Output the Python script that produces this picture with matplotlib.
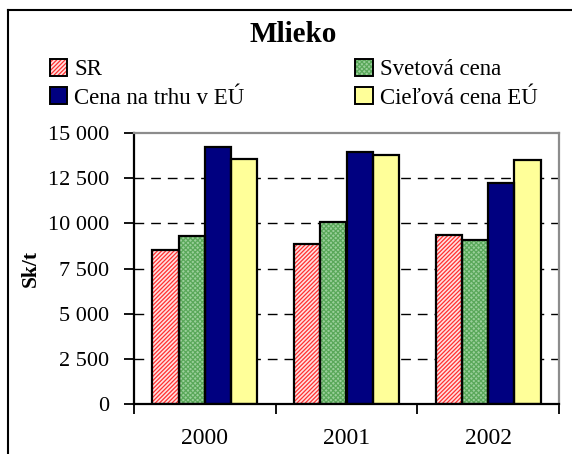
import numpy as np
import matplotlib
matplotlib.use("Agg")
import matplotlib.pyplot as plt
from matplotlib.lines import Line2D
from matplotlib.patches import Patch
from matplotlib.ticker import FuncFormatter

plt.rcParams["font.family"] = ["Liberation Serif", "DejaVu Serif"]
plt.rcParams["hatch.linewidth"] = 0.9

# ── data ─────────────────────────────────────────────────────────────
years = ["2000", "2001", "2002"]
sr = [8550, 8860, 9340]
svetova = [9320, 10100, 9050]
cena_eu = [14250, 13970, 12230]
cielova = [13550, 13790, 13500]

series_names = ["SR", "Svetová cena", "Cena na trhu v EÚ", "Cieľová cena EÚ"]
series_vals = [sr, svetova, cena_eu, cielova]
# (face, hatch colour, hatch)
styles = [("#FFE0E0", "#FF3030", "////////"),
          ("#9ACF9A", "#5AA85A", "xxxxxxx"),
          ("#000080", "#000080", ""),
          ("#FFFF99", "#FFFF99", "")]

fig = plt.figure(figsize=(5.72, 4.54), dpi=100)
ax = fig.add_axes([134 / 572, 1 - 404 / 454, (559 - 134) / 572, (404 - 133) / 454])

x = np.arange(len(years))
w = 0.185
for i, (vals, (fc, hc, hatch)) in enumerate(zip(series_vals, styles)):
    pos = x + (i - 1.5) * w
    ax.bar(pos, vals, w, color=fc, edgecolor=hc, hatch=hatch, linewidth=0, zorder=2)
    ax.bar(pos, vals, w, fill=False, edgecolor="black", linewidth=1.6, zorder=3)

ax.set_xlim(-0.5, 2.5)
ax.set_ylim(0, 15000)
ax.set_yticks(np.arange(0, 15001, 2500))
ax.yaxis.set_major_formatter(FuncFormatter(lambda v, p: f"{int(v):,}".replace(",", " ")))
ax.set_xticks(x)
ax.set_xticklabels(years)
ax.set_xticks([-0.5, 0.5, 1.5, 2.5], minor=True)
ax.tick_params(axis="x", which="major", length=0, pad=17, labelsize=17)
ax.tick_params(axis="x", which="minor", length=7, width=1.3, direction="out")
ax.tick_params(axis="y", length=7, width=1.3, pad=11, labelsize=16)

for y in np.arange(2500, 15000, 2500):
    ax.axhline(y, color="black", linewidth=1, linestyle=(0, (7, 5)), zorder=1)

for s in ["left", "bottom"]:
    ax.spines[s].set_linewidth(1.6)
    ax.spines[s].set_color("black")
for s in ["top", "right"]:
    ax.spines[s].set_linewidth(1.6)
    ax.spines[s].set_color("#8C8C8C")

ax.set_ylabel("Sk/t", fontsize=15.5, fontweight="bold", labelpad=5)

fig.text(293 / 572, 1 - 35 / 454, "Mlieko", ha="center", va="center",
         fontsize=21, fontweight="bold")

handles = []
for fc, hc, hatch in styles:
    fill = Patch(facecolor=fc, edgecolor=hc, hatch=hatch, linewidth=0)
    frame = Patch(fill=False, edgecolor="black", linewidth=1.4)
    handles.append((fill, frame))
order = [0, 2, 1, 3]
fig.legend([handles[i] for i in order], [series_names[i] for i in order],
           ncol=2, loc="upper left", bbox_to_anchor=(50 / 572, 1 - 59 / 454),
           frameon=False, fontsize=16.5, handlelength=0.75, handleheight=0.75,
           handletextpad=0.3, columnspacing=4.85, labelspacing=0.3,
           borderaxespad=0, borderpad=0)

# outer chart frame
fig.add_artist(Line2D([8 / 572, 1], [1 - 10 / 454] * 2, color="black", linewidth=1.5))
fig.add_artist(Line2D([8 / 572] * 2, [0, 1 - 10 / 454], color="black", linewidth=1.5))

fig.savefig("out.png", dpi=100)
